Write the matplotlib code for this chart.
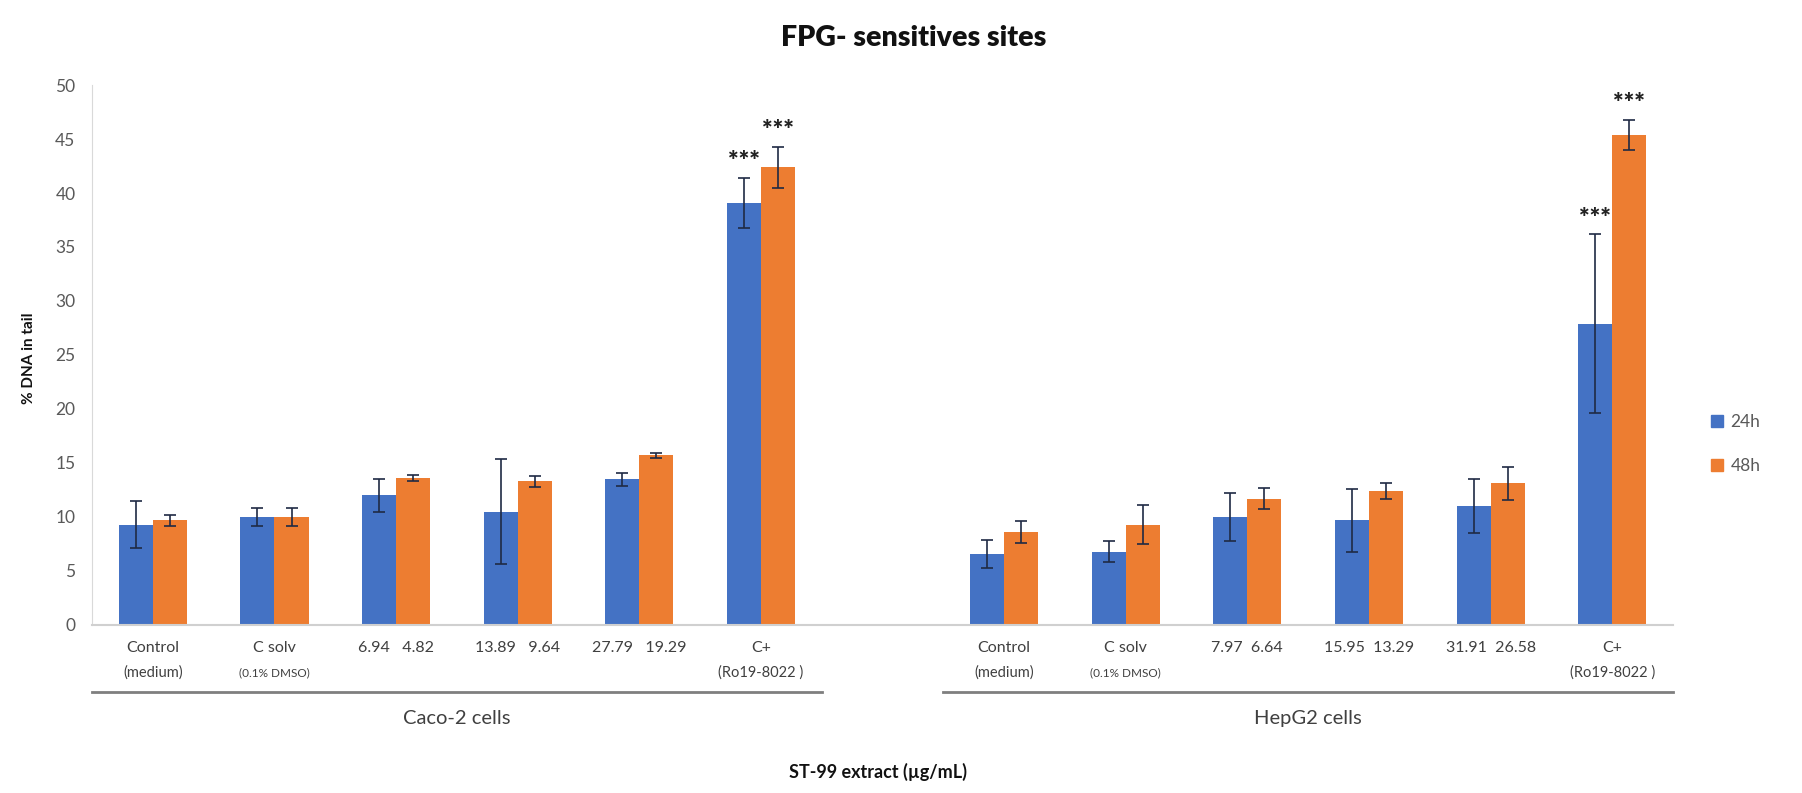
import matplotlib.pyplot as plt
import matplotlib.transforms as mtransforms
from matplotlib.patches import Patch

# % DNA in tail (mean and error) for each treatment, 24h and 48h exposure
caco_24h = [9.3, 10.0, 12.0, 10.5, 13.5, 39.1]
caco_24h_err = [2.2, 0.8, 1.5, 4.9, 0.6, 2.3]
caco_48h = [9.7, 10.0, 13.6, 13.3, 15.7, 42.4]
caco_48h_err = [0.5, 0.8, 0.3, 0.5, 0.2, 1.9]

hepg2_24h = [6.6, 6.8, 10.0, 9.7, 11.0, 27.9]
hepg2_24h_err = [1.3, 1.0, 2.2, 2.9, 2.5, 8.3]
hepg2_48h = [8.6, 9.3, 11.7, 12.4, 13.1, 45.4]
hepg2_48h_err = [1.0, 1.8, 1.0, 0.7, 1.5, 1.4]

caco_labels = ["Control", "C solv", "6.94   4.82", "13.89   9.64", "27.79   19.29", "C+"]
hepg2_labels = ["Control", "C solv", "7.97  6.64", "15.95  13.29", "31.91  26.58", "C+"]
sub_labels = ["(medium)", "(0.1% DMSO)", "", "", "", "(Ro19-8022 )"]
groups = ["Caco-2 cells", "HepG2 cells"]
series = ["24h", "48h"]

BLUE = "#4472C4"
ORANGE = "#ED7D31"
GREY = "#595959"

plt.rcParams["font.family"] = ["Lato", "DejaVu Sans"]

fig = plt.figure(figsize=(18.02, 7.93), dpi=100)
ax = fig.add_axes([0.0511, 0.2119, 0.8773, 0.6809])

# Caco-2 in slots 0-5, one empty slot, HepG2 in slots 7-12
caco_x = list(range(6))
hepg2_x = [i + 7 for i in range(6)]
w = 0.28

err_kw = dict(ecolor="#1f2a44", elinewidth=1.2, capsize=4, capthick=1.2)
ax.bar([x - w / 2 for x in caco_x], caco_24h, w, yerr=caco_24h_err, color=BLUE, error_kw=err_kw)
ax.bar([x + w / 2 for x in caco_x], caco_48h, w, yerr=caco_48h_err, color=ORANGE, error_kw=err_kw)
ax.bar([x - w / 2 for x in hepg2_x], hepg2_24h, w, yerr=hepg2_24h_err, color=BLUE, error_kw=err_kw)
ax.bar([x + w / 2 for x in hepg2_x], hepg2_48h, w, yerr=hepg2_48h_err, color=ORANGE, error_kw=err_kw)

# significance marks over the positive controls
stars = [
    (caco_x[5] - w / 2, caco_24h[5] + caco_24h_err[5]),
    (caco_x[5] + w / 2, caco_48h[5] + caco_48h_err[5]),
    (hepg2_x[5] - w / 2, hepg2_24h[5] + hepg2_24h_err[5]),
    (hepg2_x[5] + w / 2, hepg2_48h[5] + hepg2_48h_err[5]),
]
for sx, sy in stars:
    ax.text(sx, sy + 0.5, "***", ha="center", va="bottom", fontsize=18,
            fontweight="heavy", color="#222222")

ax.set_xlim(-0.5, 12.5)
ax.set_ylim(0, 50)
ax.set_yticks(range(0, 51, 5))
ax.tick_params(axis="y", length=0, labelsize=12.5, labelcolor=GREY, pad=12)
ax.set_xticks([])
for side in ["top", "right"]:
    ax.spines[side].set_visible(False)
ax.spines["left"].set_color("#d9d9d9")
ax.spines["bottom"].set_color("#d0d0d0")
ax.spines["bottom"].set_linewidth(1.5)

# category labels, group brackets and group names under the axis
trans = mtransforms.blended_transform_factory(ax.transData, fig.transFigure)
for xs, labels in [(caco_x, caco_labels), (hepg2_x, hepg2_labels)]:
    for x, lab, sub in zip(xs, labels, sub_labels):
        ax.text(x, 0.183, lab, transform=trans, ha="center", va="center",
                fontsize=11.5, color="#404040")
        if sub:
            ax.text(x, 0.152, sub, transform=trans, ha="center", va="center",
                    fontsize=10.5 if sub != "(0.1% DMSO)" else 8.5, color="#404040")

for start, name in [(-0.5, groups[0]), (6.5, groups[1])]:
    ax.plot([start, start + 6], [0.127, 0.127], transform=trans, color="#7f7f7f",
            lw=2, clip_on=False)
    ax.text(start + 3, 0.094, name, transform=trans, ha="center", va="center",
            fontsize=14.5, color="#404040")

fig.text(0.507, 0.952, "FPG- sensitives sites", ha="center", va="center",
         fontsize=20.5, fontweight="heavy", color="#111111")
fig.text(0.487, 0.026, "ST-99 extract (µg/mL)", ha="center", va="center",
         fontsize=13, fontweight="bold", color="#111111")
fig.text(0.016, 0.548, "% DNA in tail", rotation=90, ha="center", va="center",
         fontsize=11, fontweight="bold", color="#111111")

handles = [Patch(color=BLUE), Patch(color=ORANGE)]
fig.legend(handles, series, loc="center left", bbox_to_anchor=(0.941, 0.44),
           frameon=False, fontsize=12.5, labelcolor=GREY, handlelength=0.7,
           handleheight=0.7, handletextpad=0.4, labelspacing=1.6)

fig.savefig("out.png", dpi=100)
